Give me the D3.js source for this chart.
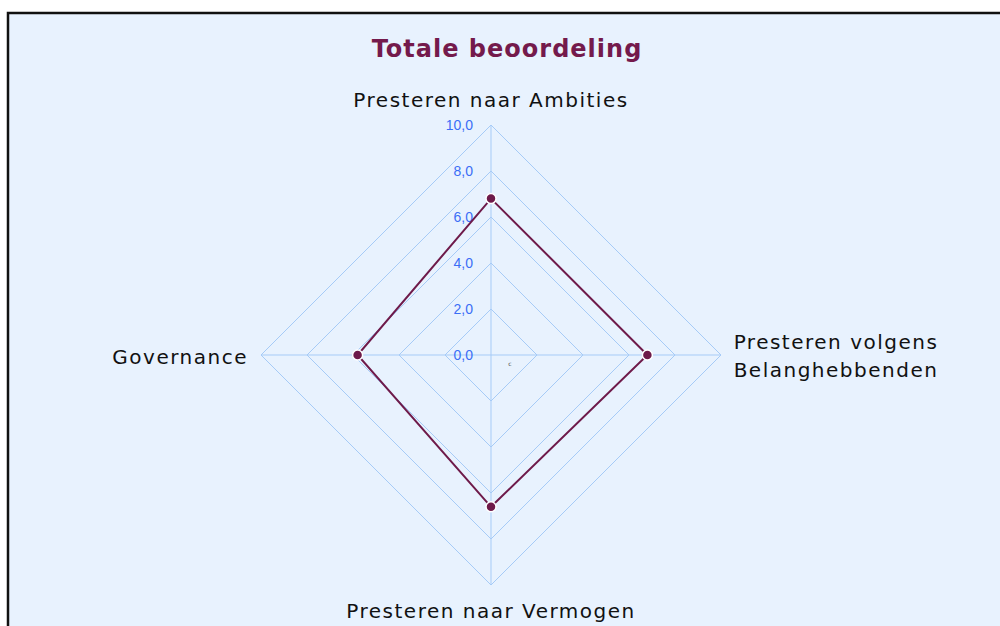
<!DOCTYPE html>
<html lang="nl">
<head>
    <meta charset="UTF-8">
    <title>Totale beoordeling</title>
    <style>
        body{
            margin: 0;
            background: #ffffff;
        }
        svg{
            display: block;
        }
        .axisLabel{
            font-family: "DejaVu Sans", sans-serif;
            font-size: 20px;
            letter-spacing: 1.5px;
            fill: #111111;
        }
        .ringLabel{
            font-family: "Liberation Sans", Arial, sans-serif;
            font-size: 14px;
            fill: #3b6ef6;
        }
    </style>
    <script src="https://cdn.jsdelivr.net/npm/d3@7"></script>
</head>
<body>
<script>
    const width = 1000
    const height = 626

    // data
    const axes = ["Presteren naar Ambities", "Presteren volgens Belanghebbenden", "Presteren naar Vermogen", "Governance"]
    const scores = [6.8, 6.8, 6.6, 5.8]
    const ringValues = [2, 4, 6, 8, 10]
    const ringLabels = ["0,0", "2,0", "4,0", "6,0", "8,0", "10,0"]

    const cx = 491
    const cy = 355
    const maxR = 230

    const rScale = d3.scaleLinear().domain([0, 10]).range([0, maxR])
    // top, right, bottom, left
    const angle = d3.scalePoint().domain(axes).range([0, 2 * Math.PI * 3 / 4])

    const px = (a, v) => cx + rScale(v) * Math.sin(angle(a))
    const py = (a, v) => cy - rScale(v) * Math.cos(angle(a))

    let svg = d3.select("body").append("svg")
        .attr("width", width)
        .attr("height", height)

    // frame
    svg.append("rect")
        .attr("x", 8).attr("y", 13)
        .attr("width", 1010).attr("height", 640)
        .attr("fill", "#e8f2fe")
        .attr("stroke", "#111111")
        .attr("stroke-width", 2.5)

    svg.append("text")
        .attr("x", 507)
        .attr("y", 57)
        .attr("text-anchor", "middle")
        .attr("font-family", "DejaVu Sans, sans-serif")
        .attr("font-weight", "bold")
        .attr("font-size", 24)
        .attr("letter-spacing", 1)
        .attr("fill", "#741a4c")
        .text("Totale beoordeling")

    let gGrid = svg.append("g")

    gGrid.selectAll(".ring")
        .data(ringValues)
        .enter()
        .append("polygon")
        .attr("points", v => axes.map(a => [px(a, v), py(a, v)].join(",")).join(" "))
        .attr("fill", "none")
        .attr("stroke", "#a6cbf7")
        .attr("stroke-width", 1)

    gGrid.selectAll(".spoke")
        .data(axes)
        .enter()
        .append("line")
        .attr("x1", cx).attr("y1", cy)
        .attr("x2", a => px(a, 10))
        .attr("y2", a => py(a, 10))
        .attr("stroke", "#a6cbf7")
        .attr("stroke-width", 1)

    gGrid.selectAll(".ringLabel")
        .data(ringLabels)
        .enter()
        .append("text")
        .attr("class", "ringLabel")
        .attr("x", cx - 18)
        .attr("y", (d, i) => cy - rScale(i * 2) + 5)
        .attr("text-anchor", "end")
        .text(d => d)

    // tiny mark near center
    svg.append("text")
        .attr("x", 510).attr("y", 366)
        .attr("text-anchor", "middle")
        .attr("font-family", "DejaVu Sans, sans-serif")
        .attr("font-size", 6)
        .attr("fill", "#555555")
        .text("c")

    // data polygon
    const pts = axes.map((a, i) => [px(a, scores[i]), py(a, scores[i])])
    svg.append("polygon")
        .attr("points", pts.map(p => p.join(",")).join(" "))
        .attr("fill", "none")
        .attr("stroke", "#6e1a4a")
        .attr("stroke-width", 2)

    svg.selectAll(".dot")
        .data(pts)
        .enter()
        .append("circle")
        .attr("cx", d => d[0])
        .attr("cy", d => d[1])
        .attr("r", 5)
        .attr("fill", "#6e1a4a")
        .attr("stroke", "#ffffff")
        .attr("stroke-width", 1.5)

    // axis labels
    const labelPos = [
        {x: 491, y: 107, anchor: "middle", lines: ["Presteren naar Ambities"]},
        {x: 836, y: 349, anchor: "middle", lines: ["Presteren volgens", "Belanghebbenden"]},
        {x: 491, y: 618, anchor: "middle", lines: ["Presteren naar Vermogen"]},
        {x: 248, y: 364, anchor: "end", lines: ["Governance"]}
    ]

    labelPos.forEach(l => {
        let t = svg.append("text")
            .attr("class", "axisLabel")
            .attr("x", l.x)
            .attr("y", l.y)
            .attr("text-anchor", l.anchor)
        l.lines.forEach((s, i) => {
            t.append("tspan")
                .attr("x", l.x)
                .attr("dy", i === 0 ? 0 : 28)
                .text(s)
        })
    })
</script>
</body>
</html>
